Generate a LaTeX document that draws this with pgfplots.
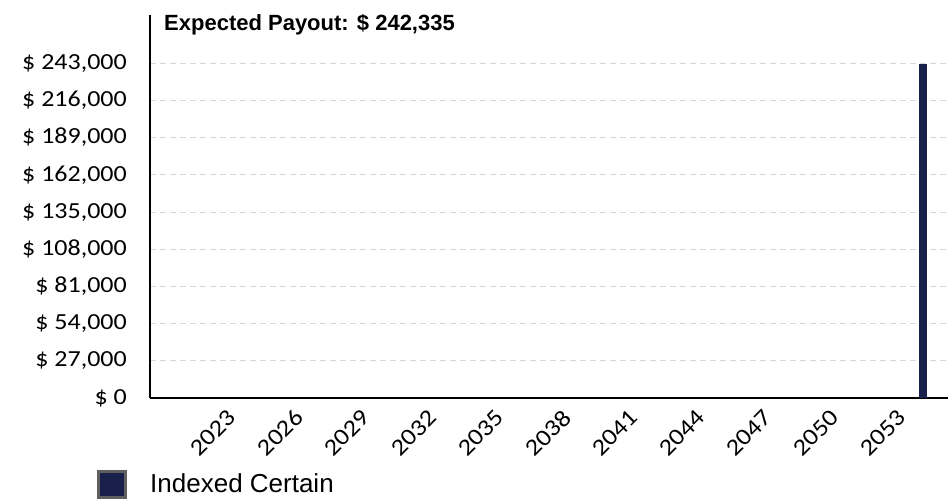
\documentclass[border=0pt]{standalone}
\usepackage{fontspec}
\setmainfont{Liberation Sans}
\newfontfamily\calib[FakeStretch=1.13]{Carlito}
\usepackage{pgfplots}
\pgfplotsset{compat=1.18}
\definecolor{navy}{HTML}{19204B}
\definecolor{gridc}{HTML}{D6D6D6}
\definecolor{legbord}{HTML}{5F5F5F}
\begin{document}
\begin{tikzpicture}
\begin{axis}[
  scale only axis,
  width=798pt, height=383pt,
  xmin=2019.39, xmax=2055.12,
  ymin=0, ymax=278000,
  scaled y ticks=false, scaled x ticks=false,
  axis x line*=bottom, axis y line*=left,
  axis line style={black, line width=1.3pt},
  major tick length=0pt,
  ytick={0,27000,54000,81000,108000,135000,162000,189000,216000,243000},
  yticklabels={{\$ 0},{\$ 27,000},{\$ 54,000},{\$ 81,000},{\$ 108,000},{\$ 135,000},{\$ 162,000},{\$ 189,000},{\$ 216,000},{\$ 243,000}},
  yticklabel style={font=\calib\fontsize{23}{23}\selectfont, inner sep=0pt, anchor=east, xshift=-23pt},
  xtick={2023,2026,2029,2032,2035,2038,2041,2044,2047,2050,2053},
  xticklabels={2023,2026,2029,2032,2035,2038,2041,2044,2047,2050,2053},
  xticklabel style={font=\calib\fontsize{23.5}{23.5}\selectfont, rotate=45, anchor=north east, inner sep=0pt, xshift=-10pt, yshift=-4pt},
  ymajorgrids,
  grid style={gridc, dash pattern=on 6pt off 4pt, line width=1pt},
  legend style={at={(rel axis cs:0,0)}, anchor=west, xshift=-53pt, yshift=-86pt,
    draw=none, fill=none, inner sep=0pt, font=\fontsize{26}{26}\selectfont,
    nodes={inner sep=0pt},
    /tikz/every odd column/.append style={column sep=23pt}},
  legend cell align=left,
]
\addplot[ybar, bar width=8pt, bar shift=0pt, fill=navy, draw=none,
  legend image code/.code={\draw[fill=navy, draw=legbord, line width=3pt] (1.5pt,-13pt) rectangle (28.5pt,13pt);}]
  coordinates {(2054,242335)};
\addlegendentry{Indexed Certain}
\node[anchor=base west, inner sep=0pt, font=\bfseries\fontsize{22}{22}\selectfont] at ([xshift=14pt, yshift=-15.5pt]rel axis cs:0,1) {Expected Payout: \$ 242,335};
\end{axis}
\path (current axis.south west) ++(-150pt,-100pt) coordinate (bbA);
\path (current axis.north east) ++(3pt,15pt) coordinate (bbB);
\pgfresetboundingbox
\useasboundingbox (bbA) rectangle (bbB);
\end{tikzpicture}
\end{document}
